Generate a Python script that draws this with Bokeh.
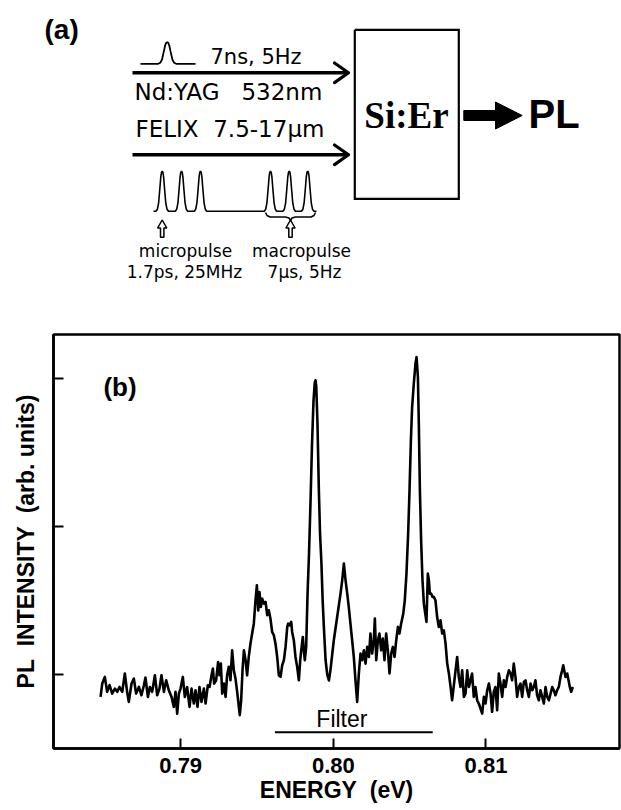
from bokeh.plotting import figure
from bokeh.models import Range1d, FixedTicker, NumeralTickFormatter
from bokeh.core.properties import value
from bokeh.embed import file_html
from bokeh.resources import INLINE

# ---------------- panel (b) data: PL spectrum ----------------
energy_ev = [
    0.78475, 0.78486, 0.78503, 0.78518, 0.78534, 0.78551, 0.78569, 0.78584, 0.78599, 0.78617,
    0.78634, 0.78649, 0.78660, 0.78678, 0.78693, 0.78708, 0.78726, 0.78743, 0.78759, 0.78769,
    0.78785, 0.78798, 0.78813, 0.78831, 0.78846, 0.78861, 0.78874, 0.78890, 0.78905, 0.78922,
    0.78940, 0.78955, 0.78966, 0.78977, 0.78988, 0.78999, 0.79014, 0.79027, 0.79042, 0.79058,
    0.79071, 0.79086, 0.79097, 0.79110, 0.79123, 0.79136, 0.79152, 0.79163, 0.79178, 0.79189,
    0.79202, 0.79211, 0.79219, 0.79232, 0.79245, 0.79254, 0.79263, 0.79272, 0.79283, 0.79294,
    0.79304, 0.79315, 0.79326, 0.79337, 0.79348, 0.79359, 0.79370, 0.79381, 0.79387, 0.79396,
    0.79405, 0.79414, 0.79425, 0.79435, 0.79446, 0.79457, 0.79468, 0.79479, 0.79490, 0.79499,
    0.79508, 0.79516, 0.79525, 0.79534, 0.79545, 0.79556, 0.79567, 0.79577, 0.79588, 0.79599,
    0.79610, 0.79621, 0.79632, 0.79643, 0.79654, 0.79665, 0.79676, 0.79687, 0.79698, 0.79704,
    0.79713, 0.79724, 0.79730, 0.79741, 0.79752, 0.79763, 0.79774, 0.79783, 0.79791, 0.79800,
    0.79807, 0.79813, 0.79822, 0.79831, 0.79840, 0.79850, 0.79860, 0.79870, 0.79878, 0.79883,
    0.79888, 0.79896, 0.79905, 0.79913, 0.79922, 0.79930, 0.79938, 0.79949, 0.79960, 0.79971,
    0.79981, 0.80003, 0.80025, 0.80047, 0.80058, 0.80069, 0.80080, 0.80091, 0.80101, 0.80112,
    0.80123, 0.80134, 0.80145, 0.80156, 0.80167, 0.80178, 0.80189, 0.80200, 0.80211, 0.80222,
    0.80233, 0.80243, 0.80254, 0.80265, 0.80272, 0.80281, 0.80292, 0.80302, 0.80313, 0.80324,
    0.80335, 0.80346, 0.80357, 0.80368, 0.80379, 0.80390, 0.80401, 0.80412, 0.80423, 0.80433,
    0.80444, 0.80458, 0.80468, 0.80479, 0.80490, 0.80499, 0.80508, 0.80516, 0.80527, 0.80538,
    0.80545, 0.80554, 0.80560, 0.80567, 0.80575, 0.80584, 0.80593, 0.80602, 0.80610, 0.80619,
    0.80626, 0.80632, 0.80641, 0.80650, 0.80658, 0.80669, 0.80680, 0.80691, 0.80702, 0.80713,
    0.80724, 0.80735, 0.80746, 0.80757, 0.80768, 0.80778, 0.80811, 0.80822, 0.80833, 0.80844,
    0.80855, 0.80866, 0.80877, 0.80888, 0.80899, 0.80909, 0.80920, 0.80931, 0.80942, 0.80953,
    0.80964, 0.80975, 0.80986, 0.80997, 0.81008, 0.81019, 0.81030, 0.81040, 0.81051, 0.81062,
    0.81073, 0.81084, 0.81095, 0.81106, 0.81117, 0.81128, 0.81139, 0.81150, 0.81161, 0.81171,
    0.81182, 0.81193, 0.81204, 0.81215, 0.81226, 0.81237, 0.81248, 0.81259, 0.81270, 0.81281,
    0.81292, 0.81303, 0.81313, 0.81324, 0.81335, 0.81346, 0.81357, 0.81368, 0.81379, 0.81390,
    0.81401, 0.81412, 0.81423, 0.81434, 0.81444, 0.81455, 0.81466, 0.81477, 0.81488, 0.81499,
    0.81506, 0.81521, 0.81532, 0.81543, 0.81549, 0.81558, 0.81569,
]
pl_intensity = [
    0.849, 0.939, 0.984, 0.883, 0.928, 0.871, 0.905, 0.883, 0.916, 0.883,
    1.007, 0.883, 0.815, 0.939, 0.973, 0.871, 0.916, 0.860, 0.928, 0.980,
    0.849, 0.916, 0.883, 0.995, 0.860, 0.905, 0.995, 0.883, 0.961, 0.894,
    0.849, 0.781, 0.883, 0.736, 0.871, 0.905, 0.984, 0.849, 0.916, 0.781,
    0.905, 0.804, 0.894, 0.781, 0.916, 0.815, 0.905, 0.804, 0.928, 0.916,
    0.995, 1.040, 0.939, 0.961, 1.085, 0.995, 1.074, 0.871, 0.939, 0.849,
    0.995, 1.052, 0.961, 1.164, 1.029, 0.973, 0.883, 0.781, 0.725, 0.826,
    1.029, 1.164, 1.097, 0.995, 1.119, 1.209, 1.277, 1.344, 1.502, 1.603,
    1.434, 1.558, 1.457, 1.513, 1.479, 1.491, 1.401, 1.434, 1.378, 1.288,
    1.266, 1.209, 1.119, 0.995, 0.984, 1.063, 1.097, 1.187, 1.322, 1.344,
    1.333, 1.356, 1.288, 1.232, 1.119, 1.052, 0.961, 1.097, 1.175, 1.254,
    1.164, 1.097, 1.187, 1.547, 1.800, 2.150, 2.550, 2.850, 2.970, 2.990,
    2.950, 2.700, 2.250, 1.950, 1.750, 1.500, 1.320, 1.100, 1.000, 0.960,
    1.030, 1.232, 1.389, 1.547, 1.637, 1.750, 1.637, 1.547, 1.457, 1.344,
    1.232, 1.119, 0.961, 0.815, 1.007, 1.142, 1.097, 1.164, 1.074, 1.187,
    1.119, 1.277, 1.142, 1.232, 1.378, 1.097, 1.232, 1.277, 1.164, 1.243,
    1.097, 1.277, 1.164, 1.007, 1.142, 1.187, 1.119, 1.232, 1.322, 1.277,
    1.344, 1.412, 1.502, 1.682, 1.952, 2.245, 2.583, 2.808, 2.966, 3.101,
    3.146, 3.011, 2.696, 2.245, 1.907, 1.637, 1.479, 1.412, 1.356, 1.682,
    1.637, 1.547, 1.547, 1.525, 1.525, 1.502, 1.389, 1.322, 1.367, 1.277,
    1.299, 1.209, 1.074, 1.007, 0.917, 0.826, 1.119, 0.984, 0.916, 1.029,
    0.849, 0.871, 1.029, 0.916, 0.961, 1.007, 0.849, 0.916, 0.826, 0.804,
    0.770, 0.736, 0.849, 0.804, 0.894, 0.939, 0.871, 0.748, 0.883, 0.916,
    0.759, 1.007, 0.939, 0.849, 0.961, 0.916, 0.984, 1.029, 1.007, 0.961,
    1.074, 0.984, 0.849, 0.916, 0.939, 0.849, 0.950, 0.961, 0.894, 0.849,
    0.939, 0.894, 0.916, 0.961, 0.860, 0.826, 0.894, 0.849, 0.804, 0.916,
    0.849, 0.826, 0.871, 0.916, 0.894, 0.860, 0.894, 0.916, 0.984, 1.029,
    1.063, 0.984, 1.007, 0.950, 0.916, 0.883, 0.916,
]

x_tick_values = [0.79, 0.80, 0.81]
y_tick_values = [1, 2, 3]
filter_band_ev = [0.79617, 0.80651]
filter_level = [0.610, 0.610]
filter_label = "Filter"
panel_b_label = "(b)"
NB = "\u00a0"
x_axis_title = "ENERGY" + NB + NB + "(eV)"
y_axis_title = "PL" + NB + NB + "INTENSITY" + NB + NB + "(arb." + NB + "units)"

# ---------------- panel (a) schematic (page-pixel coordinates) ----------------
panel_a_label = "(a)"
yag_texts = ["7ns," + NB + "5Hz", "Nd:YAG" + NB + NB + NB + "532nm"]
felix_texts = ["FELIX" + NB + NB + "7.5-17\u03bcm"]
pulse_texts = ["micropulse", "1.7ps," + NB + "25MHz", "macropulse", "7\u03bcs," + NB + "5Hz"]
sample_text = "Si:Er"
output_text = "PL"
micropulse_centers = [161.7, 181.0, 200.0, 270.0, 288.7, 307.2]
pulse_profile_dx = [-2.6, -2.0, -1.5, -1.0, -0.6, -0.3, 0.0, 0.3, 0.6, 1.0, 1.5, 2.0, 2.6]
pulse_profile_h = [0.0, 0.05, 0.2, 0.55, 0.85, 0.97, 1.0, 0.97, 0.85, 0.55, 0.2, 0.05, 0.0]

FONT = "Liberation Sans"
DIAG_FONT = "DejaVu Sans"

# ======================= top: schematic (a) =======================
p1 = figure(width=621, height=300, x_range=Range1d(0, 621), y_range=Range1d(300, 0),
            output_backend="svg", toolbar_location=None, min_border=0,
            x_axis_location=None, y_axis_location=None)
p1.grid.visible = False
p1.outline_line_color = None

# Nd:YAG single pulse
yx = [140.0] + [166.7 + d * 3.46 for d in pulse_profile_dx] + [195.0]
yy = [63.3] + [63.3 - h * 21.6 for h in pulse_profile_h] + [63.3]
p1.line(yx, yy, line_width=1.8, color="black")

# FELIX micropulse train
tx = [153.0]
ty = [210.7]
for c in micropulse_centers:
    tx += [c + d * 2.4 for d in pulse_profile_dx]
    ty += [210.7 - h * 40.0 for h in pulse_profile_h]
tx.append(316.0)
ty.append(210.7)
p1.line(tx, ty, line_width=1.6, color="black")

# beam arrows
for ay in (72.3, 154.3):
    p1.line([132.0, 347.0], [ay, ay], line_width=3.5, color="black")
    p1.line([334.0, 348.0, 334.0], [ay - 9.8, ay, ay + 9.8], line_width=3.2,
            color="black", line_join="round", line_cap="round")

# brace under macropulse group
bx = [265.0, 266.5, 269.5, 285.0, 288.5, 290.0, 291.5, 295.0, 310.5, 313.5, 315.0]
by = [212.0, 215.0, 216.5, 216.5, 217.5, 220.0, 217.5, 216.5, 216.5, 215.0, 212.0]
p1.line(bx, by, line_width=1.5, color="black")

# hollow up arrows
hx, hy = [], []
for cx in (161.7, 290.0):
    hx.append([cx, cx + 4.6, cx + 1.7, cx + 1.7, cx - 1.7, cx - 1.7, cx - 4.6])
    hy.append([219.5, 227.5, 227.5, 236.8, 236.8, 227.5, 227.5])
p1.patches(hx, hy, fill_color="white", line_color="black", line_width=1.5)

# sample box
p1.line([354.3, 458.3, 458.3, 354.3, 354.3], [29.3, 29.3, 198.3, 198.3, 29.3],
        line_width=2.2, color="black", line_join="miter")

# thick output arrow
p1.patch([463.3, 495.0, 495.0, 521.7, 495.0, 495.0, 463.3],
         [110.0, 110.0, 101.5, 115.0, 128.5, 120.0, 120.0],
         fill_color="black", line_color="black", line_width=1)

p1.text(x=[44], y=[29], text=[panel_a_label], text_font=value(FONT), text_font_style="bold",
        text_font_size="28px", text_baseline="alphabetic", text_align="left", text_color="black")
p1.text(x=[210], y=[56.3], text=[yag_texts[0]], text_font=value(DIAG_FONT),
        text_font_size="21px", text_baseline="alphabetic", text_align="left", text_color="black")
p1.text(x=[134], y=[91.7], text=[yag_texts[1]], text_font=value(DIAG_FONT),
        text_font_size="23px", text_baseline="alphabetic", text_align="left", text_color="black")
p1.text(x=[135], y=[128.0], text=felix_texts, text_font=value(DIAG_FONT),
        text_font_size="23px", text_baseline="alphabetic", text_align="left", text_color="black")
p1.text(x=[185, 184, 301, 304], y=[250.0, 271.0, 250.0, 271.0], text=pulse_texts,
        text_font=value(DIAG_FONT), text_font_size="17px", text_baseline="alphabetic",
        text_align="center", text_color="black")
p1.text(x=[406], y=[114.5], text=[sample_text], text_font=value("Liberation Serif"),
        text_font_style="bold", text_font_size="37px", text_baseline="alphabetic",
        text_align="center", text_color="black")
p1.text(x=[528], y=[113.5], text=[output_text], text_font=value(FONT), text_font_style="bold",
        text_font_size="40px", text_baseline="alphabetic", text_align="left", text_color="black")

# ======================= bottom: spectrum (b) =======================
p2 = figure(width=621, height=510, x_range=Range1d(0.781667, 0.818746), y_range=Range1d(0.5, 3.299),
            output_backend="svg", toolbar_location=None,
            min_border_left=53, min_border_right=2, min_border_top=34, min_border_bottom=62)
p2.xgrid.visible = False
p2.ygrid.visible = False
p2.outline_line_color = "black"
p2.outline_line_width = 2.5

p2.line(energy_ev, pl_intensity, line_width=2.6, color="black", line_join="round")
p2.line(filter_band_ev, filter_level, line_width=2.0, color="black")
p2.text(x=[0.80056], y=[0.697], text=[filter_label], text_font=value(FONT), text_font_size="23px",
        text_align="center", text_baseline="alphabetic", text_color="black")
p2.text(x=[0.78494], y=[2.944], text=[panel_b_label], text_font=value(FONT), text_font_style="bold",
        text_font_size="26px", text_align="left", text_baseline="alphabetic", text_color="black")

for ax in (p2.xaxis[0], p2.yaxis[0]):
    ax.major_tick_in = 10
    ax.major_tick_out = 0
    ax.major_tick_line_width = 2
    ax.major_tick_line_color = "black"
    ax.minor_tick_line_color = None
    ax.axis_line_width = 2.5
    ax.axis_line_color = "black"
    ax.axis_label_text_font = FONT
    ax.axis_label_text_font_style = "bold"
    ax.axis_label_text_color = "black"

xa = p2.xaxis[0]
xa.ticker = FixedTicker(ticks=x_tick_values)
xa.formatter = NumeralTickFormatter(format="0.00")
xa.major_label_text_font = FONT
xa.major_label_text_font_style = "bold"
xa.major_label_text_font_size = "22px"
xa.major_label_text_color = "black"
xa.major_label_standoff = 9
xa.axis_label = x_axis_title
xa.axis_label_text_font_size = "23px"
xa.axis_label_standoff = 1

ya = p2.yaxis[0]
ya.ticker = FixedTicker(ticks=y_tick_values)
ya.major_label_overrides = {1: "", 2: "", 3: ""}
ya.major_label_standoff = 0
ya.axis_label = y_axis_title
ya.axis_label_text_font_size = "23px"
ya.axis_label_standoff = 15

open("out.html", "w").write(file_html([p1, p2], INLINE))
